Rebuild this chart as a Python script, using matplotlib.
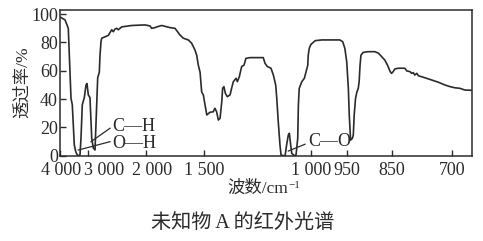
import numpy as np
import matplotlib
matplotlib.use("Agg")
import matplotlib.pyplot as plt
from matplotlib import transforms

plt.rcParams['font.family'] = ['Liberation Serif', 'Noto Sans CJK SC']

# IR spectrum of unknown A: wavenumber (cm^-1) and transmittance (%)
wavenumber = [4000, 3821, 3704, 3643, 3607, 3561, 3489, 3439, 3393, 3346, 3286,
              3250, 3204, 3132, 3071, 3036, 2995, 2966, 2936, 2909, 2879, 2850,
              2833, 2805, 2793, 2776, 2764, 2707, 2650, 2591, 2564, 2534, 2505,
              2478, 2419, 2247, 2017, 1966, 1951, 1922, 1908, 1865, 1793, 1750,
              1707, 1678, 1635, 1606, 1578, 1563, 1549, 1534, 1520, 1506, 1495,
              1487, 1472, 1457, 1449, 1441, 1433, 1425, 1417, 1413, 1407, 1400,
              1391, 1378, 1371, 1363, 1350, 1344, 1335, 1324, 1313, 1304, 1285,
              1223, 1215, 1204, 1187, 1176, 1165, 1160, 1153, 1145, 1140, 1129,
              1121, 1114, 1106, 1101, 1095, 1090, 1078, 1070, 1062, 1059, 1055,
              1043, 1031, 1023, 1015, 1013, 1008, 1000, 994, 985, 960, 956, 953,
              950.4, 947, 945, 943, 942, 938, 936, 934, 931, 928, 925, 923, 921,
              919, 914, 903, 888, 880, 873, 866, 860, 854, 851, 847, 843, 834,
              818, 813, 805, 801, 797, 793, 788, 784, 768, 751, 734, 718, 705,
              693, 680, 668, 651]
transmittance = [98, 96, 90, 59, 40.5, 36, 7.5, 3, 0.8, 0, 0.5,
                 12.5, 36, 41, 50, 51, 43, 41, 12.5, 5.5, 4, 36,
                 55, 59, 71, 80.5, 83, 84, 85, 89, 87.6, 89.5, 90,
                 89, 91, 92, 92.4, 91.7, 90, 90.5, 91, 92, 90.5, 90,
                 85.3, 83, 81.8, 79.4, 74.7, 71, 64, 59, 45, 43, 36,
                 28.8, 30.7, 31, 33.5, 31, 25.2, 26.4, 38, 47.6, 48.8, 44,
                 41.7, 43, 47.6, 52.3, 54.7, 52.3, 55.8, 63, 64, 68.8, 69.3,
                 69.3, 65.3, 63, 61.8, 57, 50, 40.6, 24, 7.6, 0.5, 0,
                 0, 7.6, 14.6, 15.8, 7.6, 1.7, 0, 0.5, 12.3, 35.8, 47.6,
                 52.3, 54.7, 59.4, 64, 71, 75.9, 78.7, 81.3, 81.8, 81.8, 80.6, 75.9,
                 66.4, 47.6, 28.8, 17, 11, 12.3, 14.6, 28.8, 40.6, 45, 47.6, 52.3, 64,
                 71, 73, 73.5, 73.5, 72.4, 70, 67.6, 64, 59.4, 58.2, 59.4, 61.3, 61.8,
                 61.8, 59.9, 59.4, 58.2, 58.7, 57, 58.2, 56.5, 55.1, 53.5, 51.9, 50, 48.8,
                 48, 47.6, 46.4, 46.2]

x_ticks = [4000, 3000, 2000, 1500, 1000, 950, 850, 700]
x_tick_labels = ["4 000", "3 000", "2 000", "1 500", "1 000", "950", "850", "700"]
y_ticks = [0, 20, 40, 60, 80, 100]

# piecewise-linear wavenumber axis (segments stretched differently);
# the mapping is kept increasing so that a reversed xlim puts 4000 on the left
_brk_wn = np.array([650, 700, 850, 950, 1000, 1500, 2000, 3000, 4000], float)
_brk_pos = np.array([-412, -392, -332, -287, -251, -144, -86, -28, 0], float)


def _fwd(x):
    return np.interp(x, _brk_wn, _brk_pos)


def _inv(p):
    return np.interp(p, _brk_pos, _brk_wn)


W, H = 483, 241
fig = plt.figure(figsize=(W / 100, H / 100), dpi=100)
ax = fig.add_axes([60 / W, 1 - 155.7 / H, (472 - 60) / W, (155.7 - 9.5) / H])
ax.set_xscale('function', functions=(_fwd, _inv))
ax.set_xlim(4000, 650)
ax.set_ylim(0, 103.3)

ink = '#2b2b2b'
ax.plot(wavenumber, transmittance, color=ink, lw=1.2, solid_joinstyle='round')

for s in ax.spines.values():
    s.set_color(ink)
    s.set_linewidth(1.1)

ax.set_xticks(x_ticks)
ax.set_xticklabels([])
ax.set_yticks(y_ticks)
ax.set_yticklabels([str(v) for v in y_ticks])
ax.tick_params(axis='both', direction='in', length=4, width=1.0, color=ink)
ax.tick_params(axis='y', labelsize=13, pad=1.5, labelcolor=ink)
ax.minorticks_off()

# x tick labels, nudged where they crowd each other
nudge = {4000: 1, 3000: 16, 2000: 6}
base = transforms.blended_transform_factory(ax.transData, ax.transAxes)
for v, lab in zip(x_ticks, x_tick_labels):
    tr = transforms.offset_copy(base, fig=fig, x=nudge.get(v, 0), y=-15, units='dots')
    ax.text(v, 0, lab, transform=tr, ha='center', va='center', fontsize=13, color=ink)

# bond annotations
ax.plot([2621, 2948], [19.4, 9.9], color=ink, lw=0.9)
ax.plot([2621, 3346], [9.9, 4.0], color=ink, lw=0.9)
ax.text(2586, 20.5, "C—H", fontsize=13, va='center', ha='left', color=ink)
ax.text(2586, 8.3, "O—H", fontsize=13, va='center', ha='left', color=ink)
ax.plot([1028, 1106], [8.1, 3.3], color=ink, lw=0.9)
ax.text(1014, 9.7, "C—O", fontsize=13, va='center', ha='left', color=ink)

# axis titles and caption
fig.text(23 / W, 1 - 82 / H, "透过率/%", rotation=90, ha='center', va='center',
         fontsize=12.5, color=ink)
fig.text(288 / W, 1 - 189 / H, "波数/cm", ha='right', va='center',
         fontsize=12.5, color=ink)
fig.text(288 / W, 1 - 185.5 / H, "\u22121", ha='left', va='center',
         fontsize=8, color=ink)
fig.text(243 / W, 1 - 223 / H, "未知物 A 的红外光谱", ha='center', va='center',
         fontsize=14.5, color=ink)

fig.savefig("out.png", dpi=100, facecolor='white')
